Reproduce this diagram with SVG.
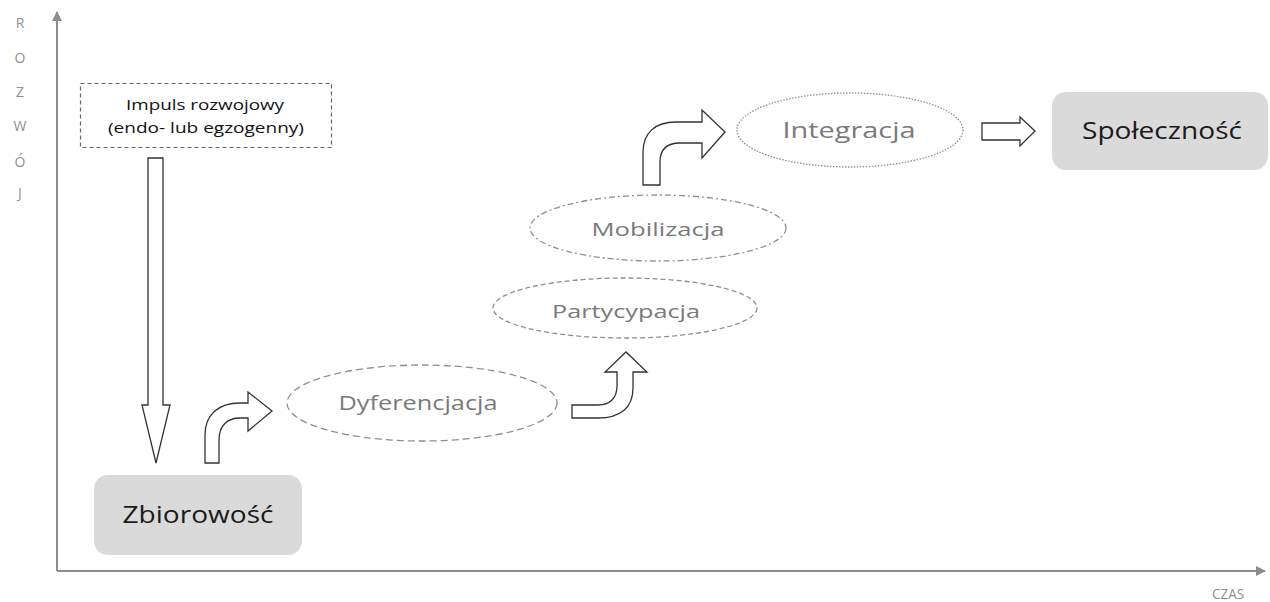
<svg xmlns="http://www.w3.org/2000/svg" width="1270" height="602" viewBox="0 0 1270 602">
<style>
.ax{stroke:#8c8c8c;stroke-width:2;fill:none}
.axl{font-family:"Open Sans","Liberation Sans",sans-serif;font-size:14px;fill:#8f8f8f;text-anchor:middle}
.blk{fill:#fff;stroke:#333;stroke-width:1.3;stroke-linejoin:miter}
.ell{fill:none;stroke:#8f8f8f;stroke-width:1.3}
.et{font-family:"Open Sans","Liberation Sans",sans-serif;fill:#7a7a7a;text-anchor:middle}
.box{fill:#dadada}
.bt{font-family:"Open Sans","Liberation Sans",sans-serif;font-size:23px;fill:#1a1a1a;text-anchor:middle}
.it{font-family:"Open Sans","Liberation Sans",sans-serif;font-size:14px;fill:#111;text-anchor:middle}
</style>
<defs>
<marker id="ah" viewBox="0 0 10 10" refX="9" refY="5" markerWidth="5" markerHeight="5" orient="auto-start-reverse" markerUnits="strokeWidth">
<path d="M0,0 L10,5 L0,10 Z" fill="#8c8c8c"/>
</marker>
</defs>
<rect width="1270" height="602" fill="#fff"/>
<g id="axes">
<line class="ax" x1="57" y1="571" x2="57" y2="12" marker-end="url(#ah)"/>
<line class="ax" x1="57" y1="571" x2="1265" y2="571" marker-end="url(#ah)"/>
<text class="axl" x="20" y="28">R</text>
<text class="axl" x="20" y="63">O</text>
<text class="axl" x="20" y="97">Z</text>
<text class="axl" x="20" y="131">W</text>
<text class="axl" x="20" y="167">Ó</text>
<text class="axl" x="20" y="198">J</text>
<text class="axl" x="1228" y="599" textLength="32" lengthAdjust="spacingAndGlyphs">CZAS</text>
</g>
<g id="impuls">
<rect x="80.5" y="83.5" width="251" height="64" fill="none" stroke="#666" stroke-width="1.2" stroke-dasharray="4,3"/>
<text class="it" x="205" y="110" textLength="158" lengthAdjust="spacingAndGlyphs">Impuls rozwojowy</text>
<text class="it" x="206" y="133" textLength="196" lengthAdjust="spacingAndGlyphs">(endo- lub egzogenny)</text>
</g>
<g id="zbiorowosc">
<rect class="box" x="94" y="475" width="208" height="80" rx="14"/>
<text class="bt" x="198" y="523" textLength="151" lengthAdjust="spacingAndGlyphs">Zbiorowość</text>
</g>
<g id="dyferencjacja">
<ellipse class="ell" cx="422" cy="403" rx="135" ry="38" stroke-dasharray="7,4"/>
<text class="et" x="418" y="410" font-size="20" textLength="159" lengthAdjust="spacingAndGlyphs">Dyferencjacja</text>
</g>
<g id="partycypacja">
<ellipse class="ell" cx="625" cy="308" rx="132" ry="30" stroke-dasharray="5,3"/>
<text class="et" x="626" y="318" font-size="19" textLength="148" lengthAdjust="spacingAndGlyphs">Partycypacja</text>
</g>
<g id="mobilizacja">
<ellipse class="ell" cx="658" cy="228" rx="128" ry="33" stroke-dasharray="6,3,2,3"/>
<text class="et" x="658" y="236" font-size="19" textLength="133" lengthAdjust="spacingAndGlyphs">Mobilizacja</text>
</g>
<g id="integracja">
<ellipse class="ell" cx="850" cy="130" rx="113" ry="37" stroke-dasharray="1.5,1.5" stroke-width="1"/>
<text class="et" x="849" y="138" font-size="21" textLength="133" lengthAdjust="spacingAndGlyphs">Integracja</text>
</g>
<g id="spolecznosc">
<rect class="box" x="1052" y="92" width="216" height="78" rx="14"/>
<text class="bt" x="1162" y="139" textLength="160" lengthAdjust="spacingAndGlyphs">Społeczność</text>
</g>
<g id="connectors">
<path class="blk" d="M148,158 L163,158 L163,405 L170,405 L156,463 L142,405 L148,405 Z"/>
<path class="blk" d="M205,463 L205,435 C205,415 218,403 240,403 L248,403 L248,392 L272,411 L248,431 L248,418 L240,418 C227,418 219,426 219,440 L219,463 Z"/>
<path class="blk" d="M572,405 L598,405 C610,405 617,398 617,386 L617,372 L605,372 L626,352 L647,372 L633,372 L633,388 C633,408 620,418 598,418 L572,418 Z"/>
<path class="blk" d="M643,185 L643,152 C643,133 655,122 676,122 L702,122 L702,110 L725,132 L702,158 L702,143 L680,143 C666,143 660,150 660,162 L660,185 Z"/>
<path class="blk" d="M982,123 L1020,123 L1020,117 L1035,131 L1020,146 L1020,140 L982,140 Z"/>
</g>
</svg>
